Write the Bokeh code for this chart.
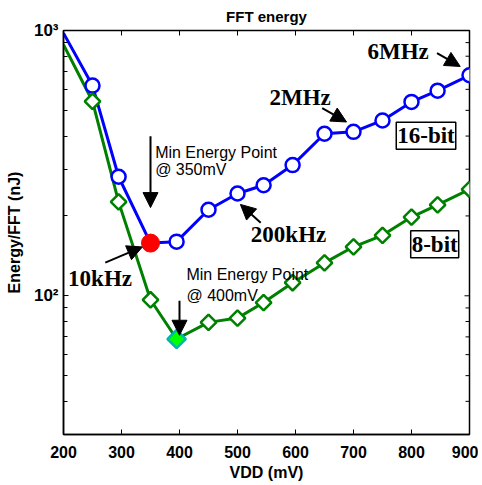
import math
from bokeh.plotting import figure
from bokeh.models import Range1d, FixedTicker, Arrow, NormalHead, Label, ColumnDataSource
from bokeh.core.properties import value
from bokeh.embed import file_html
from bokeh.resources import INLINE

# ---- data ----
vdd = [200, 250, 295, 350, 395, 450, 500, 545, 595, 650, 700, 750, 800, 845, 900]
energy_16bit = [977, 620, 281, 158, 160, 211, 243, 261, 311, 408, 415, 458, 538, 593, 678]
energy_8bit = [884, 541, 226, 96.6, 68.7, 79.4, 82.4, 94.3, 112, 133, 153, 169, 198, 220, 252]

x_ticks = [200, 300, 400, 500, 600, 700, 800, 900]
y_major = [100, 1000]
y_major_labels = {100: "10²", 1000: "10³"}
y_minor = [30, 40, 50, 60, 70, 80, 90, 200, 300, 400, 500, 600, 700, 800, 900]

min16_idx = 3   # 350 mV
min8_idx = 4    # ~400 mV

# annotation texts and anchor positions (data coords)
note_texts = ["Min Energy Point", "@ 350mV", "Min Energy Point", "@ 400mV"]
note_x = [358, 358, 412, 412]
note_y = [348, 299, 120.6, 100]

freq_texts = ["10kHz", "200kHz", "2MHz", "6MHz"]
freq_x = [263, 588, 608, 777]
freq_y = [116.5, 169.6, 557, 834]

arrows = [  # (x0, y0, x1, y1)
    (350, 399, 350, 215),
    (400, 95.8, 400, 71),
    (272, 133.4, 336, 152.8),
    (540, 188.6, 505, 221),
    (646, 510, 688, 452),
    (844, 822, 884, 732),
]

X_MIN, X_MAX = 200, 900
Y_MIN, Y_MAX = 30, 1000

FONT = "Liberation Sans"
SERIF = "Liberation Serif"

p = figure(width=478, height=483, output_backend="svg", toolbar_location=None,
           x_range=Range1d(X_MIN, X_MAX), y_range=Range1d(Y_MIN, Y_MAX), y_axis_type="log",
           min_border_left=63, min_border_right=9, min_border_top=29, min_border_bottom=49)

p.title.text = "FFT energy"
p.title.align = "center"
p.title.text_font = FONT
p.title.text_font_size = "15px"
p.title.text_font_style = "bold"
p.title.text_color = "black"
p.title.offset = 0
p.title.standoff = 11

p.xgrid.visible = False
p.ygrid.visible = False
p.outline_line_color = "black"
p.outline_line_width = 1.5


def style_axis(ax):
    ax.axis_line_color = "black"
    ax.axis_line_width = 1.5
    ax.major_tick_in = 5
    ax.major_tick_out = 0
    ax.minor_tick_in = 4
    ax.minor_tick_out = 0
    ax.major_tick_line_color = "black"
    ax.minor_tick_line_color = "black"
    ax.major_label_text_font = FONT
    ax.major_label_text_font_style = "bold"
    ax.major_label_text_font_size = "16px"
    ax.major_label_text_color = "black"
    ax.axis_label_text_font = FONT
    ax.axis_label_text_font_style = "bold"
    ax.axis_label_text_font_size = "16px"
    ax.axis_label_text_color = "black"


xa = p.xaxis[0]
xa.ticker = FixedTicker(ticks=x_ticks, minor_ticks=[])
style_axis(xa)
xa.axis_label = "VDD (mV)"
xa.major_label_standoff = 11
xa.axis_label_standoff = 3

ya = p.yaxis[0]
ya.ticker = FixedTicker(ticks=y_major, minor_ticks=y_minor)
style_axis(ya)
ya.major_label_overrides = y_major_labels
ya.axis_label = "Energy/FFT (nJ)"
ya.major_label_standoff = 5
ya.axis_label_standoff = 8
ya.major_label_text_font_size = "17px"

# mirror ticks on top and right frame edges
p.ray(x=x_ticks, y=[Y_MAX] * len(x_ticks), length=5, length_units="screen",
      angle=-math.pi / 2, line_color="black", line_width=1)
p.ray(x=[X_MAX] * len(y_major), y=y_major, length=5, length_units="screen",
      angle=math.pi, line_color="black", line_width=1)
p.ray(x=[X_MAX] * len(y_minor), y=y_minor, length=4, length_units="screen",
      angle=math.pi, line_color="black", line_width=1)

# ---- series ----
BLUE = "#0000ff"
GREEN = "#008000"

p.line(vdd, energy_16bit, line_color=BLUE, line_width=3)
p.line(vdd, energy_8bit, line_color=GREEN, line_width=3)

p.scatter(vdd[1:], energy_16bit[1:], marker="circle", size=14, line_color=BLUE,
          line_width=2.5, fill_color="white")
p.scatter(vdd[1:], energy_8bit[1:], marker="square", angle=45, angle_units="deg",
          size=11, line_color=GREEN, line_width=2.5, fill_color="white")

# minimum energy points
p.scatter([vdd[min16_idx]], [energy_16bit[min16_idx]], marker="circle", size=18,
          line_color="#ff0000", fill_color="#ff0000")
p.scatter([vdd[min8_idx]], [energy_8bit[min8_idx]], marker="square", angle=45,
          angle_units="deg", size=13, line_color="#00b4b4", line_width=2.5,
          fill_color="#00ff00")

# ---- annotations ----
for (x0, y0, x1, y1) in arrows:
    p.add_layout(Arrow(x_start=x0, y_start=y0, x_end=x1, y_end=y1, line_width=2,
                       line_color="black",
                       end=NormalHead(size=15, fill_color="black", line_color="black")))

notes = ColumnDataSource(dict(x=note_x, y=note_y, t=note_texts))
p.text("x", "y", text="t", source=notes, text_font=value(FONT), text_font_size="16px",
       text_baseline="middle", text_align="left", text_color="black")

freqs = ColumnDataSource(dict(x=freq_x, y=freq_y, t=freq_texts))
p.text("x", "y", text="t", source=freqs, text_font=value(SERIF), text_font_size="23px",
       text_font_style="bold", text_baseline="middle", text_align="center",
       text_color="black")

for txt, lx, ly in [("16-bit", 825, 401), ("8-bit", 840, 156.5)]:
    p.add_layout(Label(x=lx, y=ly, text=txt, text_font=SERIF, text_font_size="23px",
                       text_font_style="bold", text_color="black", text_align="center",
                       text_baseline="middle", background_fill_color="white",
                       background_fill_alpha=1.0,
                       border_line_color="black", border_line_width=1.5, padding=1))

open("out.html", "w").write(file_html(p, INLINE))
